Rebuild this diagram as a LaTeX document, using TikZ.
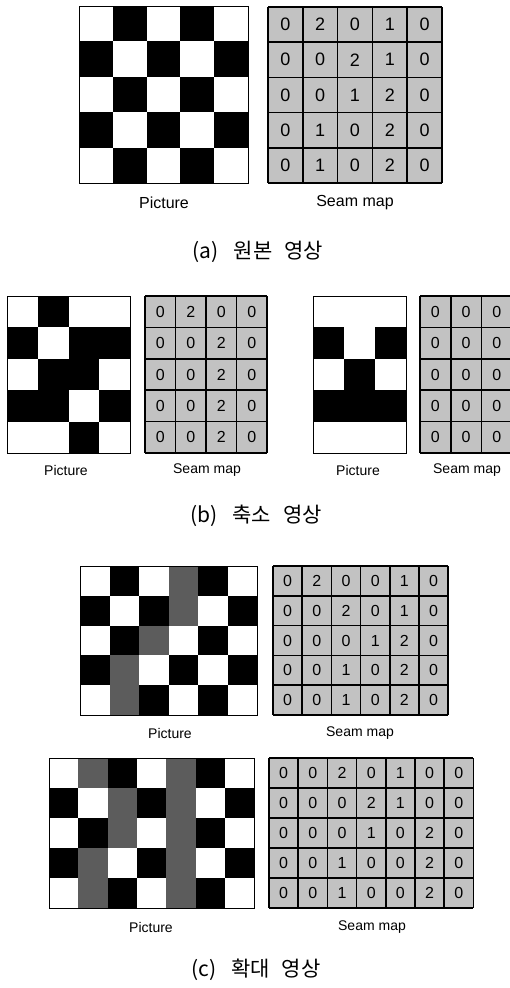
\documentclass[tikz,border=0pt]{standalone}
\usepackage{fontspec}
\setmainfont{Liberation Sans}
\newfontfamily\krfont{Noto Sans CJK KR}
\definecolor{W}{gray}{1}
\definecolor{B}{gray}{0}
\definecolor{G}{gray}{0.36}
\definecolor{mapgray}{gray}{0.76}
\tikzset{
  picborder/.style={draw=black, line width=1bp},
  mapline/.style={draw=black, line width=1.7bp},
  lbl/.style={font=\fontsize{14bp}{16bp}\selectfont, inner sep=0pt},
  lblbig/.style={font=\fontsize{16bp}{18bp}\selectfont, inner sep=0pt},
  capt/.style={font=\krfont\fontsize{21bp}{24bp}\selectfont, inner sep=0pt},
}
% #1 x0, #2 y0, #3 cell w, #4 cell h, #5 ncols, #6 rows
\newcommand\pixgrid[6]{%
  \foreach \row [count=\r from 0] in {#6} {
    \foreach \c [count=\k from 0] in \row {
      \fill[\c] ({#1+\k*#3},{#2+\r*#4}) rectangle ++(#3,#4);
    }
  }
  \draw[picborder] (#1,#2) rectangle ++({#5*#3},{5*#4});
}
% #1 x0, #2 y0, #3 w, #4 h, #5 ncols, #6 rows, #7 prefix, #8 font size
\newcommand\mapgrid[8]{%
  \fill[mapgray] (#1,#2) rectangle ++({#5*#3},{5*#4});
  \foreach \row [count=\r from 0] in {#6} {
    \foreach \v [count=\k from 0] in \row {
      \node[inner sep=0pt, font=\fontsize{#8}{#8}\selectfont] (#7-\r-\k)
        at ({#1+(\k+0.5)*#3},{#2+(\r+0.5)*#4}) {\v};
    }
  }
  \foreach \i in {0,...,#5} { \draw[mapline] ({#1+\i*#3},#2) -- ++(0,{5*#4}); }
  \foreach \j in {0,...,5} { \draw[mapline] (#1,{#2+\j*#4}) -- ++({#5*#3},0); }
}
\begin{document}
\begin{tikzpicture}[x=1bp,y=-1bp]
\useasboundingbox (0,0) rectangle (510,988);
\clip (0,0) rectangle (510,988);
\fill[white] (0,0) rectangle (510,988);
% ---------- (a)
\pixgrid{79}{6}{33.8}{35.4}{5}{{W,B,W,B,W},{B,W,B,W,B},{W,B,W,B,W},{B,W,B,W,B},{W,B,W,B,W}}
\mapgrid{268}{7}{34.8}{35.2}{5}{{0,2,0,1,0},{0,0,2,1,0},{0,0,1,2,0},{0,1,0,2,0},{0,1,0,2,0}}{ma}{18bp}
\node[lblbig] (lpa) at (164,203) {Picture};
\node[lblbig] (lma) at (355,203) {Seam map};
\node[capt] (capa) at (258,252) {(a)\hspace{15bp}원본\hspace{12bp}영상};
% ---------- (b)
\pixgrid{7}{296}{30.75}{31.4}{4}{{W,B,W,W},{B,W,B,B},{W,B,B,W},{B,B,W,B},{W,W,B,W}}
\mapgrid{145}{296}{30.5}{31.4}{4}{{0,2,0,0},{0,0,2,0},{0,0,2,0},{0,0,2,0},{0,0,2,0}}{mb}{16bp}
\pixgrid{313}{296}{31}{31.4}{3}{{W,W,W},{B,W,B},{W,B,W},{B,B,B},{W,W,W}}
\mapgrid{420}{296}{30.7}{31.4}{3}{{0,0,0},{0,0,0},{0,0,0},{0,0,0},{0,0,0}}{mc}{16bp}
\node[lbl] (lpb) at (66,470) {Picture};
\node[lbl] (lmb) at (207,470) {Seam map};
\node[lbl] (lpc) at (358,470) {Picture};
\node[lbl] (lmc) at (467,470) {Seam map};
\node[capt] (capb) at (256,516) {(b)\hspace{15bp}축소\hspace{12bp}영상};
% ---------- (c)
\pixgrid{80}{566}{29.5}{29.8}{6}{{W,B,W,G,B,W},{B,W,B,G,W,B},{W,B,G,W,B,W},{B,G,W,B,W,B},{W,G,B,W,B,W}}
\mapgrid{273}{566}{29.2}{29.8}{6}{{0,2,0,0,1,0},{0,0,2,0,1,0},{0,0,0,1,2,0},{0,0,1,0,2,0},{0,0,1,0,2,0}}{md}{16bp}
\node[lbl] (lpd) at (170,733) {Picture};
\node[lbl] (lmd) at (360,733) {Seam map};
\pixgrid{49}{758}{29.3}{30}{7}{{W,G,B,W,G,B,W},{B,W,G,B,G,W,B},{W,B,G,W,G,B,W},{B,G,W,B,G,W,B},{W,G,B,W,G,B,W}}
\mapgrid{269}{758}{29.2}{30}{7}{{0,0,2,0,1,0,0},{0,0,0,2,1,0,0},{0,0,0,1,0,2,0},{0,0,1,0,0,2,0},{0,0,1,0,0,2,0}}{me}{16bp}
\node[lbl] (lpe) at (151,927) {Picture};
\node[lbl] (lme) at (372,927) {Seam map};
\node[capt] (capc) at (256,970) {(c)\hspace{15bp}확대\hspace{12bp}영상};
\end{tikzpicture}
\end{document}
